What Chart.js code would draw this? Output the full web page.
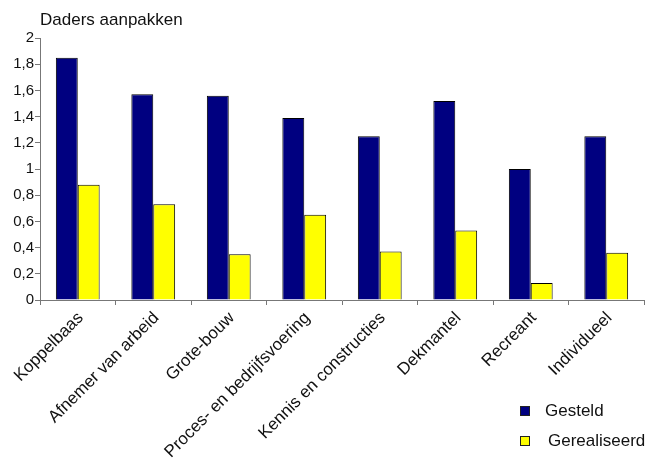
<!DOCTYPE html>
<html>
<head>
<meta charset="utf-8">
<script src="https://cdn.jsdelivr.net/npm/chart.js@4/dist/chart.umd.min.js"></script>
<style>
  html, body { margin: 0; padding: 0; background: #fff; }
  #wrap { position: relative; width: 647px; height: 458px; }
</style>
</head>
<body>
<div id="wrap"><canvas id="chart"></canvas></div>
<script>
const categories = ['Koppelbaas', 'Afnemer van arbeid', 'Grote-bouw', 'Proces- en bedrijfsvoering',
    'Kennis en constructies', 'Dekmantel', 'Recreant', 'Individueel'];
const gesteld = [1.85, 1.57, 1.56, 1.39, 1.25, 1.52, 1.0, 1.25];
const gerealiseerd = [0.88, 0.73, 0.35, 0.65, 0.37, 0.53, 0.13, 0.36];
const seriesNames = ['Gesteld', 'Gerealiseerd'];
const chartTitle = 'Daders aanpakken';

const FONT = '"Liberation Sans", Arial, sans-serif';

// title top-left and a stacked legend in the bottom-right corner
const extras = {
    id: 'extras',
    afterDraw(chart) {
        const ctx = chart.ctx;
        ctx.save();
        ctx.fillStyle = '#111';
        ctx.font = '17px ' + FONT;
        ctx.textBaseline = 'middle';
        ctx.textAlign = 'left';
        ctx.fillText(chartTitle, 40, 20);

        chart.data.datasets.forEach((ds, i) => {
            const y = 411 + i * 30;
            ctx.fillStyle = ds.backgroundColor;
            ctx.fillRect(520, y - 5, 10, 10);
            ctx.strokeStyle = '#222';
            ctx.lineWidth = 1;
            ctx.strokeRect(520.5, y - 4.5, 9, 9);
            ctx.fillStyle = '#111';
            ctx.font = '17px ' + FONT;
            ctx.fillText(ds.label, i === 0 ? 545 : 548, y);
        });
        ctx.restore();
    }
};

new Chart(document.getElementById('chart'), {
    type: 'bar',
    data: {
        labels: categories,
        datasets: [
            { label: seriesNames[0], data: gesteld, backgroundColor: '#000080', borderColor: '#000', borderWidth: 1 },
            { label: seriesNames[1], data: gerealiseerd, backgroundColor: '#ffff00', borderColor: '#000', borderWidth: 1 }
        ]
    },
    options: {
        responsive: true, maintainAspectRatio: false, animation: false,
        layout: { padding: { top: 38, right: 3, left: 0, bottom: 0 } },
        categoryPercentage: 0.58,
        barPercentage: 1.0,
        plugins: { legend: { display: false }, title: { display: false }, tooltip: { enabled: false } },
        scales: {
            x: {
                grid: { display: true, drawOnChartArea: false, color: '#777', tickLength: 5, offset: true },
                border: { color: '#777' },
                ticks: {
                    color: '#111', font: { family: FONT, size: 17 }, minRotation: 45, maxRotation: 45,
                    autoSkip: false, padding: 3, labelOffset: 3
                },
                afterFit: s => { s.height = 158; }
            },
            y: {
                min: 0, max: 2,
                grid: { display: true, drawOnChartArea: false, color: '#777', tickLength: 5 },
                border: { color: '#777' },
                ticks: {
                    stepSize: 0.2, color: '#111', font: { family: FONT, size: 15 }, padding: 1,
                    callback: v => String(Number(v.toFixed(1))).replace('.', ',')
                },
                afterFit: s => { s.width = 40; }
            }
        }
    },
    plugins: [extras]
});
</script>
</body>
</html>
